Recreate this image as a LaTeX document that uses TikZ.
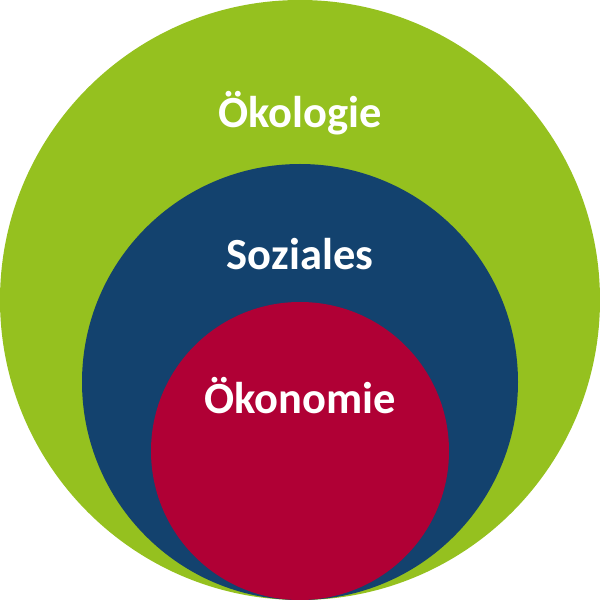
\documentclass[tikz,border=0pt]{standalone}
\usepackage{fontspec}
\setmainfont{Carlito}
\definecolor{oekogreen}{HTML}{95C11F}
\definecolor{sozblue}{HTML}{13426E}
\definecolor{oekored}{HTML}{B00035}
\begin{document}
\begin{tikzpicture}[x=1pt,y=1pt,
  ring/.style={circle,inner sep=0pt,minimum size=#1},
  lab/.style={text=white,font=\fontsize{44.5}{44.5}\selectfont\bfseries,anchor=base,inner sep=0pt}]
\useasboundingbox (0,0) rectangle (600,600);
\node[ring=600pt,fill=oekogreen] (oeko) at (300,300) {};
\node[ring=436pt,fill=sozblue] (soz) at (300,218) {};
\node[ring=298pt,fill=oekored] (oekon) at (300,149) {};
\node[lab] (t1) at (300,472) {Ökologie};
\node[lab] (t2) at (300,330) {Soziales};
\node[lab] (t3) at (300,186) {Ökonomie};
\end{tikzpicture}
\end{document}
